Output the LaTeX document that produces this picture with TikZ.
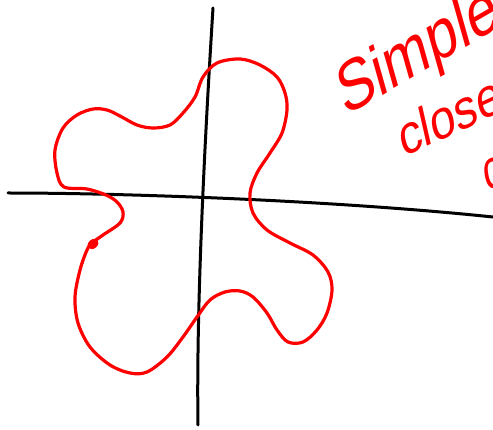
\documentclass[tikz,border=0pt]{standalone}
\usepackage{fontspec}
\setmainfont{Liberation Sans}
\usepackage{tikz}
\usetikzlibrary{positioning,calc}

\begin{document}
\begin{tikzpicture}[
  x=1pt,y=-1pt,
  axisline/.style={draw=black, line width=3pt, line cap=round},
  loopline/.style={draw=red, line width=3.2pt, line cap=round, line join=round},
  scrawl/.style={text=red, inner sep=0pt, font=\fontsize{72}{72}\selectfont, xscale=0.7}
]
\clip (0,0) rectangle (493,430);
% axes, drawn by hand
\coordinate (xl) at (8,193);
\coordinate (xr) at (493,217);
\coordinate (yt) at (213,8);
\coordinate (yb) at (198,425);
\draw[axisline] (xl) .. controls (120,193) and (330,200) .. (xr);
\draw[axisline] (yt) .. controls (206,120) and (196,300) .. (yb);
% the simple closed curve
\draw[loopline] plot[smooth cycle, tension=0.55] coordinates {
  (92,243) (103,235) (120,223) (123,212) (117,202) (106,195) (87,189) (64,187)
  (57,173) (55,150) (63,128) (77,115) (93,109) (107,110) (120,116) (137,125)
  (153,128) (170,125) (183,113) (195,97) (203,77) (217,63) (240,59) (260,65)
  (277,77) (285,93) (287,110) (282,133) (270,153) (257,173) (250,193) (253,213)
  (267,230) (290,243) (313,255) (328,272) (332,290) (327,313) (317,330) (303,342)
  (288,342) (277,330) (267,313) (253,297) (240,291) (225,292) (210,300) (197,317)
  (183,337) (167,357) (147,372) (130,373) (110,365) (90,347) (78,323) (75,297)
  (80,270) (87,250)};
\fill[red, rotate around={40:(93,244)}] (93,244) ellipse (6pt and 4.5pt);
% words, cut off at the right edge
\node[scrawl, anchor=base west, rotate=22, xscale=1.1] (simple) at (345,117) {Simple};
\node[scrawl, anchor=base west, rotate=18, xscale=1.17, font=\fontsize{56}{56}\selectfont] (closed) at (403,158) {closed};
\node[scrawl, anchor=base west, rotate=15, font=\fontsize{56}{56}\selectfont] (curve) at (486,192) {curve};
\end{tikzpicture}
\end{document}
